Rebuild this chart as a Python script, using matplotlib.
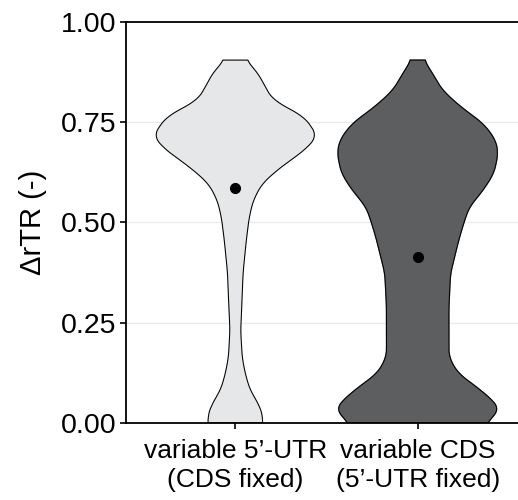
import numpy as np
import matplotlib.pyplot as plt

plt.rcParams['font.family'] = ['Liberation Sans', 'DejaVu Sans']

# categories and summary points (mean dRTR per group)
groups = ["variable 5\u2019-UTR\n(CDS fixed)", "variable CDS\n(5\u2019-UTR fixed)"]
means = [0.587, 0.413]
colors = ["#E6E7E8", "#5D5E60"]

# violin density profiles (relative density, max ~ 1)
y_utr = [0.0, 0.003, 0.016, 0.049, 0.082, 0.124, 0.165, 0.232, 0.29, 0.373, 0.456,
         0.514, 0.556, 0.598, 0.639, 0.681, 0.716, 0.764, 0.805, 0.847, 0.872, 0.905]
d_utr = [0.33, 0.33, 0.34, 0.28, 0.18, 0.12, 0.083, 0.065, 0.079, 0.094, 0.134,
         0.17, 0.22, 0.33, 0.56, 0.85, 1.0, 0.84, 0.46, 0.34, 0.28, 0.13]

y_cds = [0.0, 0.012, 0.032, 0.049, 0.082, 0.124, 0.165, 0.207, 0.29, 0.373, 0.456,
         0.498, 0.539, 0.581, 0.623, 0.672, 0.706, 0.747, 0.789, 0.83, 0.872, 0.905]
d_cds = [0.83, 0.90, 1.0, 0.95, 0.77, 0.49, 0.38, 0.38, 0.38, 0.40, 0.50,
         0.56, 0.63, 0.80, 0.93, 0.98, 0.95, 0.80, 0.52, 0.30, 0.18, 0.077]

profiles = [(y_utr, d_utr), (y_cds, d_cds)]
max_half_width = 0.45

fig = plt.figure(figsize=(5.18, 5.0), dpi=100)
ax = fig.add_axes([0.243, 0.154, 0.757, 0.802])

for i, (yv, dv) in enumerate(profiles):
    pos = i + 1
    yv = np.array(yv)
    hw = np.array(dv) * max_half_width
    # smooth the outline a little
    yy = np.linspace(yv.min(), yv.max(), 300)
    ww = np.interp(yy, yv, hw)
    ww = np.convolve(np.pad(ww, 6, mode='edge'), np.ones(13) / 13, mode='valid')
    xs = np.concatenate([pos - ww, (pos + ww)[::-1], [pos - ww[0]]])
    ys = np.concatenate([yy, yy[::-1], [yy[0]]])
    ax.fill(xs, ys, color=colors[i], zorder=2)
    ax.plot(xs, ys, color='black', lw=0.75, zorder=3)
    ax.plot(pos, means[i], 'o', color='black', ms=7, zorder=4)

ax.set_xlim(0.4, 2.55)
ax.set_ylim(0, 1)
ax.set_yticks([0, 0.25, 0.5, 0.75, 1.0])
ax.set_yticklabels(["0.00", "0.25", "0.50", "0.75", "1.00"])
ax.set_xticks([1, 2])
ax.set_xticklabels(groups, fontsize=19, linespacing=1.25)
ax.tick_params(axis='y', labelsize=20.5, length=4.5, width=1.2, color='black', pad=2)
ax.tick_params(axis='x', length=4.5, width=1.2, color='black', pad=7)
for y in [0.25, 0.5, 0.75]:
    ax.axhline(y, color='#EBEBEB', lw=1.0, zorder=0)
for s in ['left', 'bottom', 'top']:
    ax.spines[s].set_linewidth(1.3)
ax.spines['right'].set_visible(False)
ax.set_ylabel("\u0394rTR (-)", fontsize=21, labelpad=10)

fig.savefig("out.png", dpi=100)
